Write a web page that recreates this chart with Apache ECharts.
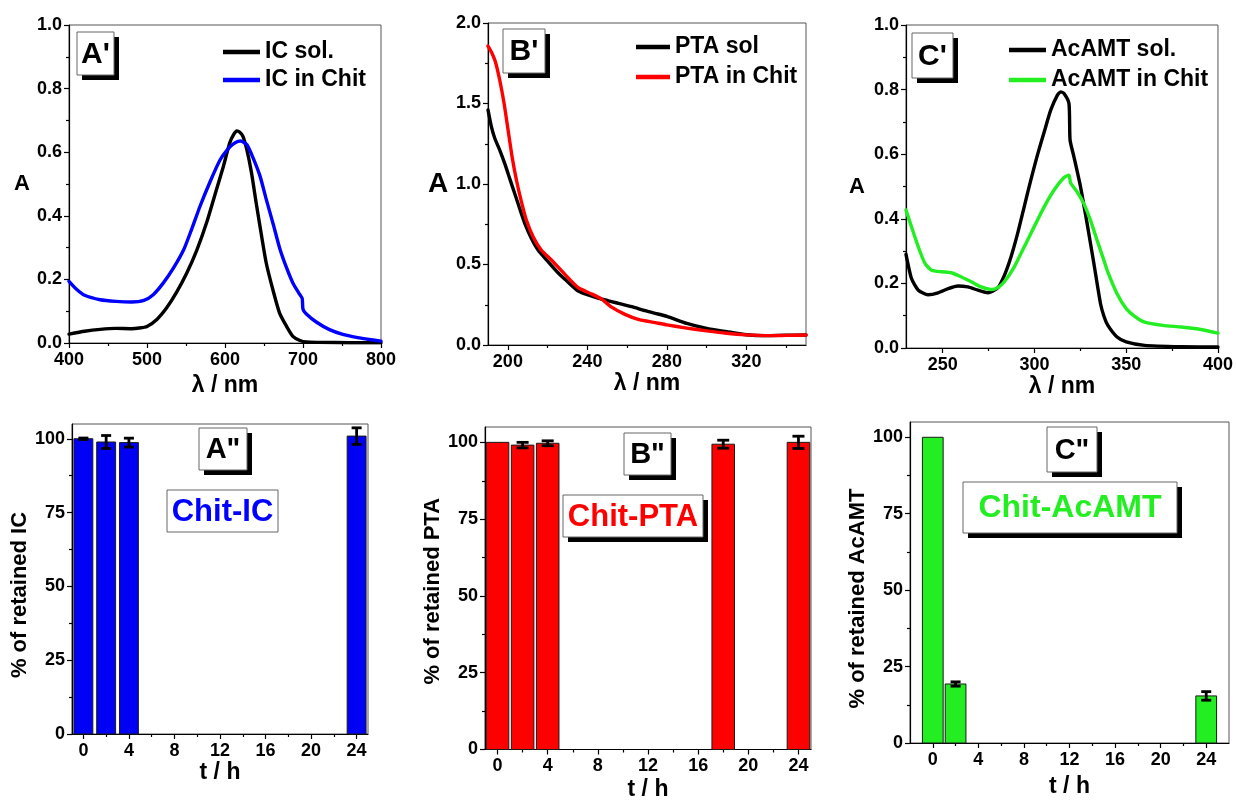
<!DOCTYPE html>
<html>
<head>
<meta charset="utf-8">
<script src="https://cdn.jsdelivr.net/npm/echarts@6.0.0/dist/echarts.min.js"></script>
<style>
html,body{margin:0;padding:0;background:#fff;}
#chart{width:1236px;height:802px;}
</style>
</head>
<body>
<div id="chart"></div>
<script>
// ---------------- DATA ----------------
// Panel A' : IC absorbance spectra [wavelength nm, A]
const icSol = [[400,0.028],[420,0.037],[440,0.043],[460,0.046],[480,0.045],[490,0.047],[500,0.052],[513,0.075],[525,0.11],[538,0.16],[551,0.22],[564,0.293],[577,0.383],[589,0.482],[598,0.556],[606,0.629],[611,0.655],[615,0.667],[619,0.663],[623,0.65],[628,0.608],[634,0.535],[640,0.44],[647,0.335],[653,0.25],[662,0.162],[670,0.094],[679,0.052],[687,0.021],[696,0.008],[704,0.003],[720,0.002],[760,0.001],[800,0.001]];
const icChit = [[400,0.194],[410,0.168],[420,0.15],[440,0.136],[460,0.131],[480,0.129],[496,0.134],[508,0.152],[521,0.189],[534,0.236],[547,0.293],[557,0.356],[568,0.43],[581,0.508],[594,0.577],[606,0.616],[613,0.63],[620,0.635],[628,0.624],[636,0.582],[645,0.524],[653,0.451],[662,0.372],[670,0.299],[679,0.236],[687,0.189],[696,0.152],[699,0.14],[700,0.106],[704,0.092],[717,0.066],[734,0.042],[750,0.028],[770,0.017],[785,0.011],[800,0.006]];
// Panel B' : PTA absorbance spectra
const ptaSol = [[190,1.46],[191.7,1.356],[193.4,1.284],[195.9,1.211],[198.4,1.128],[200.9,1.035],[203.4,0.942],[205.9,0.849],[208.5,0.756],[211.8,0.663],[215.2,0.59],[220.2,0.518],[225,0.452],[229,0.405],[235.4,0.335],[242.2,0.304],[248.9,0.28],[255.6,0.259],[262.3,0.238],[269.1,0.213],[274.1,0.197],[280,0.178],[290,0.134],[300,0.103],[310,0.083],[320,0.064],[330,0.058],[340,0.061],[350,0.062]];
const ptaChit = [[190,1.857],[191.7,1.82],[193.7,1.76],[195.9,1.646],[198.1,1.5],[200.1,1.335],[202.1,1.17],[204.3,1.025],[206.8,0.89],[209.3,0.776],[212.7,0.673],[216.8,0.59],[221.9,0.528],[228.6,0.44],[235.4,0.356],[242.2,0.317],[247.2,0.285],[252.2,0.235],[258.9,0.19],[265.6,0.159],[274.1,0.139],[280,0.125],[290,0.105],[300,0.088],[310,0.073],[320,0.063],[330,0.058],[340,0.06],[350,0.062]];
// Panel C' : AcAMT absorbance spectra
const acSol = [[230,0.29],[233,0.215],[236.7,0.179],[242,0.165],[247.5,0.171],[253,0.184],[258.3,0.192],[263.7,0.189],[269.2,0.179],[274.6,0.171],[280,0.186],[283.6,0.225],[287.2,0.282],[290.8,0.354],[294.4,0.437],[298,0.52],[301.6,0.597],[305.3,0.669],[308.9,0.737],[312.5,0.783],[314.3,0.793],[316.1,0.788],[318.8,0.757],[319.4,0.644],[321.5,0.592],[325.1,0.499],[328.7,0.385],[332.4,0.261],[336,0.137],[338,0.096],[340,0.07],[345,0.034],[350,0.019],[360,0.008],[380,0.004],[400,0.003]];
const acChit = [[230,0.427],[233,0.375],[236.7,0.313],[240.4,0.261],[244,0.241],[249.4,0.236],[254.8,0.233],[260.2,0.22],[265.6,0.205],[271,0.189],[276.4,0.181],[280,0.187],[283.6,0.205],[289,0.251],[294.4,0.313],[299.8,0.375],[305.3,0.437],[310.7,0.489],[316.1,0.528],[318.8,0.535],[319.7,0.511],[323.3,0.483],[326.9,0.447],[330.5,0.396],[334.1,0.334],[337.8,0.272],[340,0.235],[345,0.168],[350,0.122],[355,0.096],[360,0.08],[370,0.07],[380,0.065],[390,0.058],[400,0.046]];
// Retention bar panels: time (h), % retained, error
const icTimes = [0, 2, 4, 24];
const icRetained = [100, 98.9, 98.7, 100.9];
const icErr = [0.25, 2.2, 1.5, 2.8];
const ptaTimes = [0, 2, 4, 18, 24];
const ptaRetained = [100, 99.1, 99.7, 99.4, 100];
const ptaErr = [0, 0.9, 0.8, 1.3, 2.0];
const acTimes = [0, 2, 24];
const acRetained = [100, 19.3, 15.4];
const acErr = [0, 0.7, 1.4];
// Tick values
const ticksAx = [400, 500, 600, 700, 800], minorAx = [450, 550, 650, 750];
const ticksBx = [200, 240, 280, 320], minorBx = [220, 260, 300, 340];
const ticksCx = [250, 300, 350, 400], minorCx = [275, 325, 375];
const ticksAbs1 = [0, 0.2, 0.4, 0.6, 0.8, 1.0], minorAbs1 = [0.1, 0.3, 0.5, 0.7, 0.9];
const ticksAbs2 = [0, 0.5, 1.0, 1.5, 2.0], minorAbs2 = [0.25, 0.75, 1.25, 1.75];
const ticksT = [0, 4, 8, 12, 16, 20, 24], minorT = [2, 6, 10, 14, 18, 22];
const ticksPct = [0, 25, 50, 75, 100], minorPct = [12.5, 37.5, 62.5, 87.5];

// ---------------- CHART ----------------
const F = "'Liberation Sans', Arial, Helvetica, sans-serif";
const grids = [
  {left: 69, top: 25, width: 312, height: 318},
  {left: 488, top: 23, width: 318, height: 322},
  {left: 906, top: 25, width: 314, height: 323},
  {left: 72, top: 424, width: 296, height: 310},
  {left: 485, top: 427, width: 326, height: 325},
  {left: 910, top: 422, width: 319, height: 321}
].map(g => Object.assign({show: true, borderColor: '#555', borderWidth: 1, backgroundColor: 'transparent'}, g));

const fix1 = v => v.toFixed(1);
const int0 = v => String(Math.round(v));

function axisPair(dim, gi, min, max, major, minor, fmt, nameCfg) {
  const isX = dim === 'x';
  const main = {
    type: 'value', gridIndex: gi, min: min, max: max,
    position: isX ? 'bottom' : 'left',
    axisLine: {show: true, onZero: false, lineStyle: {color: '#000', width: 1.2}},
    axisTick: {show: true, customValues: major, length: 5, lineStyle: {color: '#000', width: 1.2}},
    axisLabel: {show: true, customValues: major, formatter: fmt, fontSize: 18, fontWeight: 'bold',
      fontFamily: F, color: '#000', margin: isX ? 8 : 7},
    splitLine: {show: false}
  };
  if (nameCfg) {
    main.name = nameCfg.text;
    main.nameLocation = 'middle';
    main.nameGap = nameCfg.gap;
    if (nameCfg.rotate !== undefined) main.nameRotate = nameCfg.rotate;
    main.nameTextStyle = {fontSize: nameCfg.size || 23, fontWeight: 'bold', fontFamily: F, color: '#000',
      align: 'center', verticalAlign: 'middle', padding: nameCfg.padding || 0};
  }
  const mnr = {
    type: 'value', gridIndex: gi, min: min, max: max,
    position: isX ? 'bottom' : 'left',
    axisLine: {show: false, onZero: false},
    axisTick: {show: true, customValues: minor, length: 3, lineStyle: {color: '#000', width: 1.2}},
    axisLabel: {show: false},
    splitLine: {show: false}
  };
  return [main, mnr];
}

const xAxes = [].concat(
  axisPair('x', 0, 400, 800, ticksAx, minorAx, int0, {text: 'λ / nm', gap: 43}),
  axisPair('x', 1, 190, 350, ticksBx, minorBx, int0, {text: 'λ / nm', gap: 39}),
  axisPair('x', 2, 230, 400, ticksCx, minorCx, int0, {text: 'λ / nm', gap: 39}),
  axisPair('x', 3, -1, 25, ticksT, minorT, int0, {text: 't / h', gap: 38}),
  axisPair('x', 4, -1, 25, ticksT, minorT, int0, {text: 't / h', gap: 40}),
  axisPair('x', 5, -2, 26, ticksT, minorT, int0, {text: 't / h', gap: 44})
);
const yAxes = [].concat(
  axisPair('y', 0, 0, 1, ticksAbs1, minorAbs1, fix1, {text: 'A', gap: 47, rotate: 0, size: 22}),
  axisPair('y', 1, 0, 2, ticksAbs2, minorAbs2, fix1, {text: 'A', gap: 50, rotate: 0, size: 28}),
  axisPair('y', 2, 0, 1, ticksAbs1, minorAbs1, fix1, {text: 'A', gap: 49, rotate: 0, size: 22}),
  axisPair('y', 3, 0, 105, ticksPct, minorPct, int0, {text: '% of retained IC', gap: 47, size: 22, padding: [0, 32, 0, 0]}),
  axisPair('y', 4, 0, 105, ticksPct, minorPct, int0, {text: '% of retained PTA', gap: 48, size: 22, padding: [0, 6, 0, 0]}),
  axisPair('y', 5, 0, 105, ticksPct, minorPct, int0, {text: '% of retained AcAMT', gap: 48, size: 22, padding: [0, 32, 0, 0]})
);

function lineSeries(name, gi, data, color) {
  return {
    type: 'line', name: name, xAxisIndex: gi * 2, yAxisIndex: gi * 2, data: data,
    showSymbol: false, symbol: 'none', smooth: 0.2,
    color: color, lineStyle: {color: color, width: 3.4, join: 'round', cap: 'round'}, z: 3
  };
}

function barSeries(name, gi, times, vals, halfW, fill) {
  return {
    type: 'custom', name: name, xAxisIndex: gi * 2, yAxisIndex: gi * 2,
    data: times.map((t, i) => [t, vals[i]]),
    encode: {x: 0, y: 1},
    renderItem: function (params, api) {
      const x = api.value(0), y = api.value(1);
      const a = api.coord([x - halfW, y]);
      const b = api.coord([x + halfW, 0]);
      return {type: 'rect', shape: {x: a[0], y: a[1], width: b[0] - a[0], height: b[1] - a[1]},
        style: {fill: fill, stroke: '#1a1a1a', lineWidth: 1}};
    },
    z: 2
  };
}

function errSeries(gi, times, vals, errs, capPx) {
  return {
    type: 'custom', xAxisIndex: gi * 2, yAxisIndex: gi * 2,
    data: times.map((t, i) => [t, vals[i], errs[i]]).filter(d => d[2] > 0),
    encode: {x: 0, y: 1},
    renderItem: function (params, api) {
      const x = api.value(0), y = api.value(1), e = api.value(2);
      const hi = api.coord([x, y + e]), lo = api.coord([x, y - e]);
      const st = {stroke: '#000', lineWidth: 2.8};
      return {type: 'group', children: [
        {type: 'line', shape: {x1: hi[0], y1: hi[1], x2: lo[0], y2: lo[1]}, style: st},
        {type: 'line', shape: {x1: hi[0] - capPx, y1: hi[1], x2: hi[0] + capPx, y2: hi[1]}, style: st},
        {type: 'line', shape: {x1: lo[0] - capPx, y1: lo[1], x2: lo[0] + capPx, y2: lo[1]}, style: st}
      ]};
    },
    z: 4
  };
}

const BLUE = '#0000ff', RED = '#ff0000', GREEN = '#22ee22';

const series = [
  lineSeries('IC sol.', 0, icSol, '#000000'),
  lineSeries('IC in Chit', 0, icChit, BLUE),
  lineSeries('PTA sol', 1, ptaSol, '#000000'),
  lineSeries('PTA in Chit', 1, ptaChit, RED),
  lineSeries('AcAMT sol.', 2, acSol, '#000000'),
  lineSeries('AcAMT in Chit', 2, acChit, GREEN),
  barSeries('Chit-IC', 3, icTimes, icRetained, 0.83, '#0000f5'),
  errSeries(3, icTimes, icRetained, icErr, 5),
  barSeries('Chit-PTA', 4, ptaTimes, ptaRetained, 0.9, RED),
  errSeries(4, ptaTimes, ptaRetained, ptaErr, 6),
  barSeries('Chit-AcAMT', 5, acTimes, acRetained, 0.91, GREEN),
  errSeries(5, acTimes, acRetained, acErr, 5)
];

function legendCfg(names, left, top, itemWidth, gap) {
  return {
    data: names, left: left, top: top, orient: 'vertical', icon: 'rect',
    itemWidth: itemWidth, itemHeight: 4.5, itemGap: gap, selectedMode: false,
    padding: 0,
    textStyle: {fontSize: 23, fontWeight: 'bold', fontFamily: F, color: '#000', lineHeight: 24}
  };
}

function box(x, y, w, h, text, color, size, shadow) {
  const els = [];
  if (shadow) els.push({type: 'rect', shape: {x: x + 5, y: y + 5, width: w, height: h}, style: {fill: '#000'}, z: 10});
  els.push({type: 'rect', shape: {x: x, y: y, width: w, height: h}, style: {fill: '#fff', stroke: '#666', lineWidth: 1}, z: 11});
  els.push({type: 'text', x: x + w / 2, y: y + h / 2 + 1, z: 12,
    style: {text: text, fill: color, font: 'bold ' + size + 'px ' + F, align: 'center', verticalAlign: 'middle'}});
  return els;
}

const graphics = [].concat(
  box(77, 32, 37, 43, "A'", '#000', 30, true),
  box(503, 29, 42, 44, "B'", '#000', 30, true),
  box(912, 33, 41, 45, "C'", '#000', 30, true),
  box(199, 428, 48, 42, 'A"', '#000', 29, true),
  box(167, 490, 111, 42, 'Chit-IC', BLUE, 31, false),
  box(624, 433, 47, 42, 'B"', '#000', 29, true),
  box(563, 495, 140, 42, 'Chit-PTA', RED, 31, true),
  box(1047, 427, 50, 45, 'C"', '#000', 29, true),
  box(963, 482, 214, 51, 'Chit-AcAMT', GREEN, 32, true)
);

const chart = echarts.init(document.getElementById('chart'), null, {renderer: 'canvas'});
chart.setOption({
  animation: false,
  backgroundColor: '#fff',
  textStyle: {fontFamily: F},
  grid: grids,
  xAxis: xAxes,
  yAxis: yAxes,
  legend: [
    legendCfg(['IC sol.', 'IC in Chit'], 223, 40, 37, 4),
    legendCfg(['PTA sol', 'PTA in Chit'], 636, 35, 34, 6),
    legendCfg(['AcAMT sol.', 'AcAMT in Chit'], 1009, 38, 37, 6)
  ],
  graphic: {elements: graphics},
  series: series
});
</script>
</body>
</html>
